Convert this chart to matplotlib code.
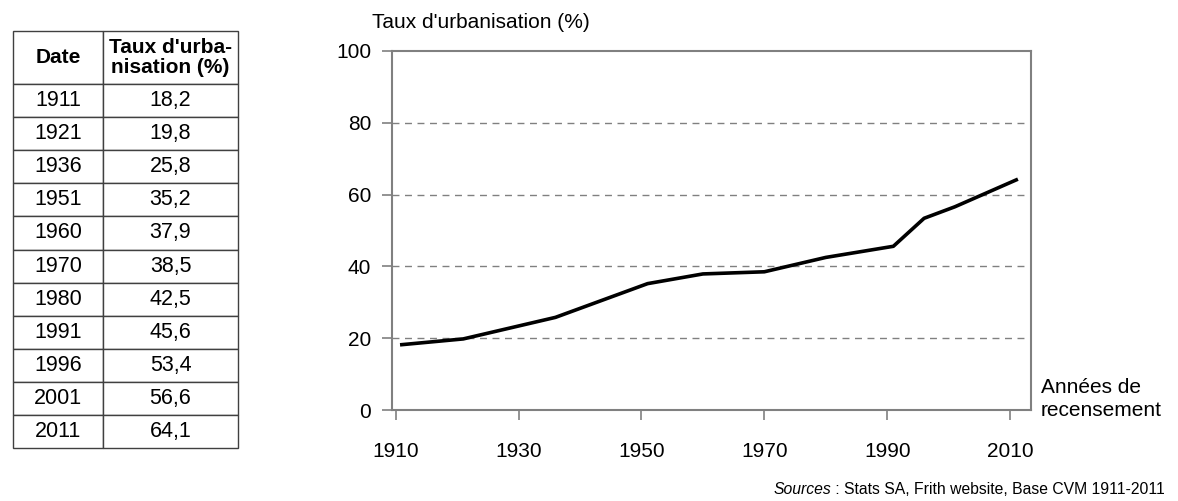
import matplotlib

matplotlib.use("Agg")
import matplotlib.pyplot as plt

plt.rcParams["font.family"] = ["Liberation Sans", "DejaVu Sans"]

# census years and urbanisation rate (%)
years = [1911, 1921, 1936, 1951, 1960, 1970, 1980, 1991, 1996, 2001, 2011]
rates = [18.2, 19.8, 25.8, 35.2, 37.9, 38.5, 42.5, 45.6, 53.4, 56.6, 64.1]
xticks = [1910, 1930, 1950, 1970, 1990, 2010]
yticks = [0, 20, 40, 60, 80, 100]

W, H = 1178, 501
fig = plt.figure(figsize=(W / 100, H / 100), dpi=100)

# --- line chart ---
ax = fig.add_axes([392 / W, (H - 410) / H, (1031 - 392) / W, (410 - 51) / H])
ax.plot(years, rates, color="black", lw=2.6, solid_joinstyle="round")
ax.set_xlim(1909.4, 2013.4)
ax.set_ylim(0, 100)
ax.set_xticks(xticks)
ax.set_yticks(yticks)
ax.tick_params(labelsize=15, length=7, width=1.2, color="#808080")
ax.tick_params(axis="x", pad=16)
ax.tick_params(axis="y", pad=8)
for s in ax.spines.values():
    s.set_color("#808080")
    s.set_linewidth(1.5)
for v in yticks[1:-1]:
    ax.axhline(v, color="#808080", lw=1, ls=(0, (5, 4)), zorder=0)
fig.text(372 / W, (H - 22) / H, "Taux d'urbanisation (%)", fontsize=15,
         va="center", ha="left")
fig.text(1041 / W, (H - 399) / H, "Années de\nrecensement", fontsize=15,
         va="center", ha="left", linespacing=1.25)

# --- data table ---
tax = fig.add_axes([13 / W, (H - 448) / H, (238 - 13) / W, (448 - 31) / H])
tax.axis("off")
cells = [[str(y), f"{r:.1f}".replace(".", ",")] for y, r in zip(years, rates)]
tab = tax.table(cellText=[["Date", "Taux d'urba-\nnisation (%)"]] + cells,
                cellLoc="center", bbox=[0, 0, 1, 1], colWidths=[90, 135])
tab.auto_set_font_size(False)
for (r, c), cell in tab.get_celld().items():
    cell.set_edgecolor("#404040")
    cell.set_linewidth(1)
    cell.set_height(53 if r == 0 else 33)
    cell.get_text().set_fontsize(15.5)
    if r == 0:
        cell.get_text().set_fontsize(15)
        cell.get_text().set_fontweight("bold")
        cell.get_text().set_linespacing(1.1)

# --- sources ---
src = fig.text(1165 / W, (H - 489) / H,
               " : Stats SA, Frith website, Base CVM 1911-2011",
               fontsize=11.3, ha="right", va="center")
ax.annotate("Sources", xy=(0, 0.5), xycoords=src, ha="right", va="center",
            fontsize=11.3, fontstyle="italic")

fig.savefig("out.png", dpi=100)
